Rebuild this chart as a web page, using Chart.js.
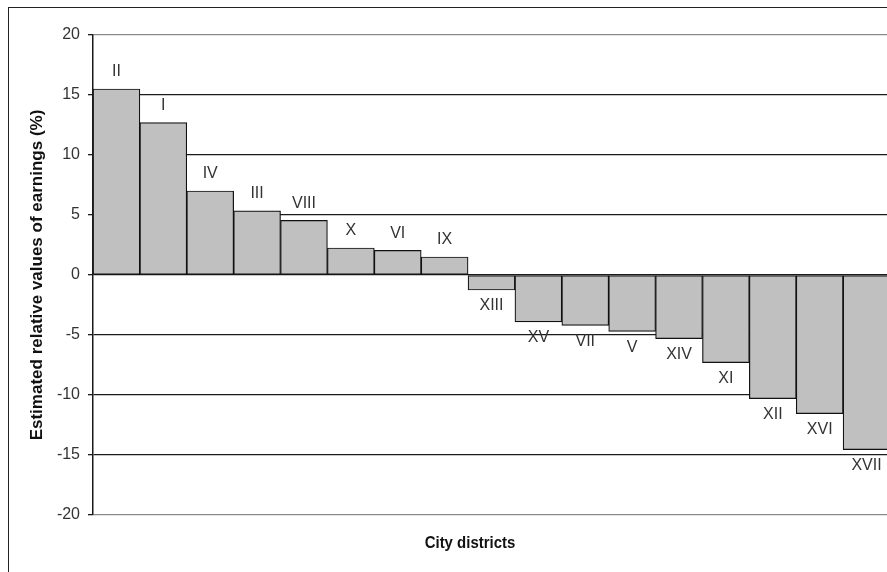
<!DOCTYPE html>
<html>
<head>
<meta charset="utf-8">
<script src="https://cdn.jsdelivr.net/npm/chart.js@4/dist/chart.umd.min.js"></script>
<style>
  html, body { margin: 0; padding: 0; background: #fff; overflow: hidden; width: 887px; height: 572px; }
  #frame { position: absolute; left: 8px; top: 7px; width: 900px; height: 600px; border-left: 1.5px solid #222; border-top: 1.5px solid #222; }
  #wrap { position: absolute; left: 0; top: 0; width: 900px; height: 572px; }
</style>
</head>
<body>
<div id="frame"></div>
<div id="wrap"><canvas id="c" width="900" height="572"></canvas></div>
<script>
const districts = ["II","I","IV","III","VIII","X","VI","IX","XIII","XV","VII","V","XIV","XI","XII","XVI","XVII"];
const earnings = [15.5, 12.7, 7.0, 5.35, 4.55, 2.25, 2.05, 1.5, -1.25, -3.9, -4.2, -4.7, -5.3, -7.3, -10.3, -11.55, -14.55];
const yTicks = [20, 15, 10, 5, 0, -5, -10, -15, -20];
const yTitle = "Estimated relative values of earnings (%)";
const xTitle = "City districts";

const FONT = "'Liberation Sans', Arial, sans-serif";

const labelPlugin = {
  id: 'barLabels',
  afterDatasetsDraw(chart) {
    const ctx = chart.ctx;
    const meta = chart.getDatasetMeta(0);
    const y = chart.scales.y;
    ctx.save();
    ctx.font = "16px " + FONT;
    ctx.fillStyle = "#333";
    ctx.textAlign = "center";
    ctx.textBaseline = "middle";
    meta.data.forEach((bar, i) => {
      const v = earnings[i];
      const py = y.getPixelForValue(v);
      const ly = v >= 0 ? py - 17 : py + 16;
      ctx.fillText(districts[i], bar.x, ly);
    });
    ctx.restore();
    // x axis title (slightly condensed, like the reference)
    const ca = chart.chartArea;
    const cx = ca.left + (ca.right - ca.left) * 0.473;
    ctx.save();
    ctx.translate(cx, ca.bottom + 28);
    ctx.scale(0.88, 1);
    ctx.font = "bold 17px " + FONT;
    ctx.fillStyle = "#111";
    ctx.textAlign = "center";
    ctx.textBaseline = "middle";
    ctx.fillText(xTitle, 0, 0);
    ctx.restore();
  }
};

new Chart(document.getElementById('c'), {
  type: 'bar',
  data: {
    labels: districts,
    datasets: [{
      data: earnings,
      backgroundColor: '#c0c0c0',
      borderColor: '#111',
      borderWidth: 1.2,
      borderSkipped: false,
      categoryPercentage: 1.0,
      barPercentage: 1.0
    }]
  },
  options: {
    responsive: false,
    animation: false,
    devicePixelRatio: 1,
    layout: { padding: { left: 0, right: 10, top: 35, bottom: 0 } },
    plugins: { legend: { display: false }, tooltip: { enabled: false }, title: { display: false } },
    scales: {
      x: {
        grid: { display: false },
        border: { display: false },
        ticks: { display: false },
        afterFit(scale) { scale.height = 57; }
      },
      y: {
        min: -20, max: 20,
        afterBuildTicks(scale) { scale.ticks = yTicks.map(v => ({ value: v })); },
        afterFit(scale) { scale.width = 93; },
        grid: {
          color: ctx => (Math.abs(ctx.tick.value) === 20 ? '#8a8a8a' : '#1a1a1a'),
          lineWidth: 1.3,
          tickLength: 5,
          tickColor: '#1a1a1a'
        },
        border: { display: true, color: '#1a1a1a', width: 1.5 },
        ticks: {
          font: { family: FONT, size: 16 },
          color: '#333',
          padding: 8
        },
        title: {
          display: true,
          text: yTitle,
          font: { family: FONT, size: 17, weight: 'bold' },
          color: '#111',
          padding: { top: 27, bottom: 0 }
        }
      }
    }
  },
  plugins: [labelPlugin]
});
</script>
</body>
</html>
